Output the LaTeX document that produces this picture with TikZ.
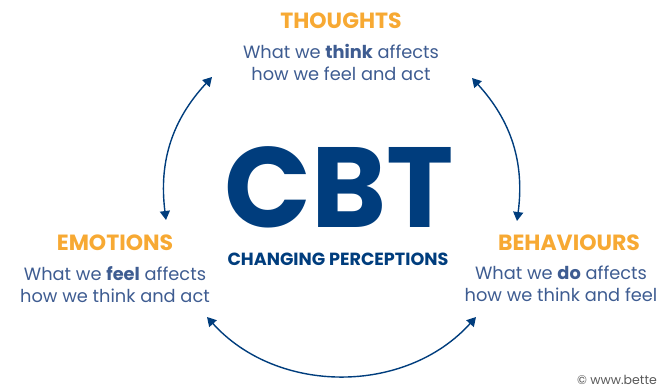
\documentclass[tikz,border=0pt]{standalone}
\usepackage{fontspec}
\setmainfont{Poppins}
\usetikzlibrary{positioning,arrows.meta}
\definecolor{cbtorange}{RGB}{247,169,51}
\definecolor{cbtnavy}{RGB}{0,61,125}
\definecolor{cbtblue}{RGB}{62,92,145}

\begin{document}
\begin{tikzpicture}[
                        x = 1pt,
                        y = 1pt,
                        cbtarc/.style = {
                                draw = cbtnavy,
                                line width = 1.4pt,
                                {Triangle[length=9pt,width=10pt]}-{Triangle[length=9pt,width=10pt]}
                        }
                        ]

                        \tikzstyle{heading}=[
                                text = cbtorange,
                                font = \bfseries\fontsize{22}{24}\selectfont,
                                inner sep = 0pt
                        ]
                        \tikzstyle{effect}=[
                                text = cbtblue,
                                font = \fontsize{17.8}{22}\selectfont,
                                align = center,
                                inner sep = 0pt
                        ]

                        \useasboundingbox (0,0) rectangle (660,390);

                        \node[heading] (thoughts) at (341,369) {THOUGHTS};
                        \node[heading] (emotions) at (115,147) {EMOTIONS};
                        \node[heading] (behaviours) at (569,147) {BEHAVIOURS};

                        \node[effect] (thoughtstxt) [below = 15pt of thoughts] {What we \textbf{think} affects\\how we feel and act};
                        \node[effect] (emotionstxt) [below = 15pt of emotions] {What we \textbf{feel} affects\\how we think and act};
                        \node[effect] (behaviourstxt) [below = 15pt of behaviours, xshift = -8pt] {What we \textbf{do} affects\\how we think and feel};

                        \node[text = cbtnavy, font = \bfseries\fontsize{114}{114}\selectfont, inner sep = 0pt] (cbt) at (339,203) {CBT};
                        \node[text = cbtnavy, font = \bfseries\fontsize{17.6}{19}\selectfont, inner sep = 0pt] (changing) at (338,131) {CHANGING PERCEPTIONS};

                        \node[anchor = base east, text = black!65, font = \fontsize{12.5}{14}\selectfont, inner sep = 0pt] (copyright) at (657,5) {© www.bette};

                        \coordinate (emoUp) at (166,170);
                        \coordinate (thoLeft) at (212,313);
                        \coordinate (thoRight) at (472,312);
                        \coordinate (behUp) at (517,169);
                        \coordinate (behDown) at (476,73);
                        \coordinate (emoDown) at (207,73);

                        \draw[cbtarc] (emoUp) to[bend left = 25] (thoLeft);
                        \draw[cbtarc] (thoRight) to[bend left = 25] (behUp);
                        \draw[cbtarc] (behDown) to[bend left = 48] (emoDown);
                \end{tikzpicture}
\end{document}
